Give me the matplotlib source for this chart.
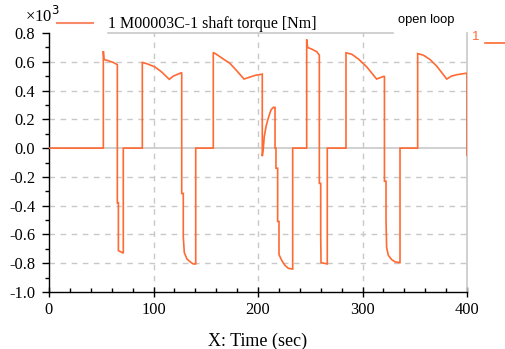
import matplotlib
matplotlib.use("Agg")
import matplotlib.pyplot as plt
from matplotlib.lines import Line2D
from matplotlib.ticker import MultipleLocator, FormatStrFormatter

plt.rcParams['axes.unicode_minus'] = False

# Data: time (sec) and shaft torque (x10^3 Nm)
time = [0, 52, 52, 52.6, 56.8, 61.6, 65.4, 65.4, 66.4, 66.4, 68.5, 71.1, 71.1, 89.3,
        89.3, 93.5, 101.4, 107.8, 115.1, 118.9, 127, 127, 128.5, 128.5, 129.5, 132, 135, 138, 140.4, 140.4,
        157.2, 157.2, 160, 166, 173, 180, 186.6, 190.7, 197, 204.1,
        204.1, 205.1, 206, 207.7, 209.3, 210.8, 212.4, 214.6, 215.6, 216.3, 216.3, 217.2, 217.2,
        218.8, 218.8, 220.1, 220.1, 222.7, 225.8, 229, 232.2, 233.2, 233.2,
        246.6, 246.6, 247.5, 251.4, 256.2, 258.7, 258.7, 260, 260, 260.3, 263, 266.3, 266.3,
        284.2, 284.2, 289.6, 296, 304, 313.5, 317, 321, 321, 322.5, 322.5, 323.1, 324.7, 327.9, 331.1, 335.2, 335.9, 335.9,
        352.8, 352.8, 358.2, 364.6, 371, 380.6, 385, 390.1, 399, 400, 400]
torque = [0, 0, 0.674, 0.616, 0.607, 0.595, 0.58, -0.38, -0.38, -0.713, -0.72, -0.73, 0, 0,
          0.595, 0.587, 0.564, 0.529, 0.478, 0.5, 0.525, -0.315, -0.315, -0.616, -0.727, -0.77, -0.79, -0.805, -0.805, 0,
          0, 0.665, 0.653, 0.623, 0.59, 0.535, 0.48, 0.49, 0.505, 0.514,
          -0.056, 0.0, 0.08, 0.15, 0.195, 0.23, 0.265, 0.283, 0.283, 0.283, 0.0, 0.0, -0.14,
          -0.14, -0.51, -0.51, -0.74, -0.78, -0.815, -0.835, -0.84, -0.84, 0,
          0, 0.755, 0.70, 0.688, 0.67, 0.646, -0.245, -0.245, -0.604, -0.796, -0.80, -0.805, 0,
          0, 0.662, 0.653, 0.62, 0.565, 0.48, 0.49, 0.50, -0.23, -0.23, -0.50, -0.69, -0.745, -0.775, -0.79, -0.796, -0.796, 0,
          0, 0.657, 0.646, 0.616, 0.57, 0.48, 0.50, 0.51, 0.52, 0.52, -0.05]

xticks = [0, 100, 200, 300, 400]
yticks = [0.8, 0.6, 0.4, 0.2, 0.0, -0.2, -0.4, -0.6, -0.8, -1.0]
legend_label = "1 M00003C-1 shaft torque [Nm]"

W, H = 506, 349
fig = plt.figure(figsize=(W / 100, H / 100), dpi=100)
ax = fig.add_axes([49 / W, 1 - 292 / H, (467 - 49) / W, (292 - 33) / H])

color = '#ff6a33'
grid_c = '#c8c8c8'
serif = ['Liberation Serif', 'DejaVu Serif']
sans = ['Liberation Sans', 'DejaVu Sans']

ax.plot(time, torque, color=color, lw=1.2, solid_joinstyle='miter', zorder=3)

ax.set_xlim(0, 400)
ax.set_ylim(-1.0, 0.8)
ax.xaxis.set_major_locator(MultipleLocator(100))
ax.xaxis.set_minor_locator(MultipleLocator(20))
ax.yaxis.set_major_locator(MultipleLocator(0.2))
ax.yaxis.set_minor_locator(MultipleLocator(0.1))
ax.yaxis.set_major_formatter(FormatStrFormatter('%.1f'))

for xv in xticks[1:-1]:
    ax.axvline(xv, color=grid_c, lw=1.0, ls=(0, (4, 4)), zorder=1)
for yv in yticks:
    if abs(yv) < 1e-9:
        ax.axhline(0, color=grid_c, lw=1.2, zorder=1)
    elif -1.0 < yv < 0.8:
        ax.axhline(yv, color=grid_c, lw=1.0, ls=(0, (4, 4)), zorder=1)

ax.spines['top'].set_visible(False)
ax.spines['right'].set_color(grid_c)
ax.spines['right'].set_linewidth(1.2)
ax.spines['left'].set_linewidth(1.0)
ax.spines['bottom'].set_linewidth(1.0)

ax.tick_params(axis='y', which='major', direction='out', length=5, width=1, pad=5)
ax.tick_params(axis='y', which='minor', direction='out', length=3, width=1)
ax.tick_params(axis='x', which='major', direction='inout', length=7, width=1, pad=4)
ax.tick_params(axis='x', which='minor', direction='in', length=3, width=1)
for lab in ax.get_xticklabels() + ax.get_yticklabels():
    lab.set_family(serif)
    lab.set_fontsize(11.8)

ax.set_xlabel("X: Time (sec)", family=serif, fontsize=13, labelpad=10)

# offset label
fig.text(25 / W, 1 - 16 / H, "×10$^3$", family=serif, fontsize=12, va='center', ha='left')

# legend sample and text
fig.add_artist(Line2D([57 / W, 93 / W], [1 - 23 / H, 1 - 23 / H], color='#f88a6a', lw=1.5))
fig.text(108 / W, 1 - 24 / H, legend_label, family=serif, fontsize=11.5, va='center', ha='left')
fig.add_artist(Line2D([108 / W, 393 / W], [1 - 33 / H, 1 - 33 / H], color=grid_c, lw=1.2))
fig.text(398 / W, 1 - 20 / H, "open loop", family=sans, fontsize=9.3, va='center', ha='left')

fig.text(472 / W, 1 - 37 / H, "1", family=sans, fontsize=9.5, color=color, va='center', ha='left')
fig.add_artist(Line2D([485 / W, 506 / W], [1 - 43 / H, 1 - 43 / H], color=color, lw=1.2))

fig.savefig("out.png", dpi=100)
